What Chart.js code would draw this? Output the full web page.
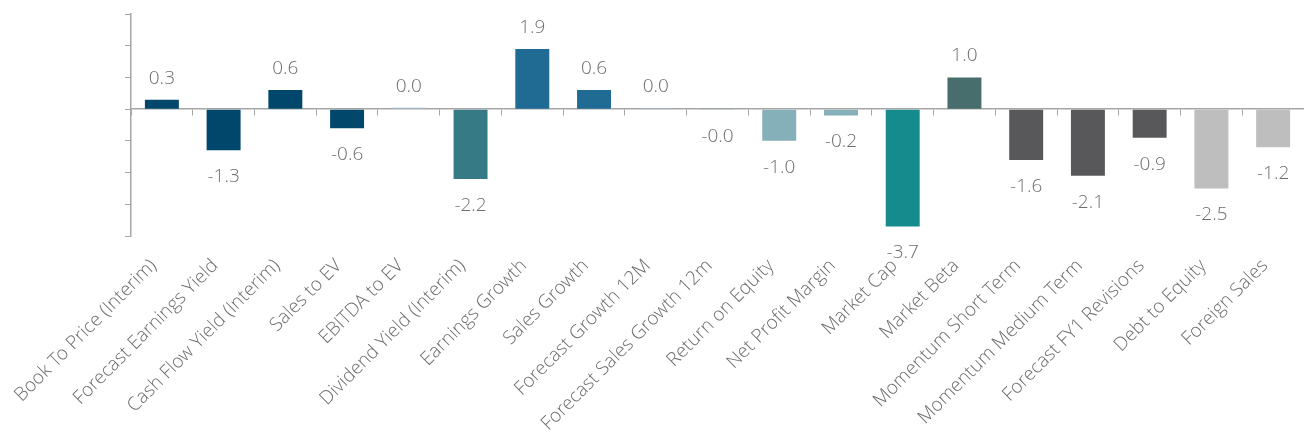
<!DOCTYPE html>
<html>
<head>
<meta charset="utf-8">
<script src="https://cdn.jsdelivr.net/npm/chart.js@4.4.1/dist/chart.umd.min.js"></script>
<style>
    html, body { margin: 0; padding: 0; background: #fff; }
    #wrap { width: 1304px; height: 439px; position: relative; }
</style>
</head>
<body>
<div id="wrap"><canvas id="myChart"></canvas></div>
<script>
const labels = ['Book To Price (Interim)', 'Forecast Earnings Yield', 'Cash Flow Yield (Interim)', 'Sales to EV', 'EBITDA to EV', 'Dividend Yield (Interim)', 'Earnings Growth', 'Sales Growth', 'Forecast Growth 12M', 'Forecast Sales Growth 12m', 'Return on Equity', 'Net Profit Margin', 'Market Cap', 'Market Beta', 'Momentum Short Term', 'Momentum Medium Term', 'Forecast FY1 Revisions', 'Debt to Equity', 'Foreign Sales'];
const values = [0.3, -1.3, 0.6, -0.6, 0.04, -2.2, 1.9, 0.6, 0.03, -0.03, -1.0, -0.2, -3.7, 1.0, -1.6, -2.1, -0.9, -2.5, -1.2];
const barColors = ['#00476b', '#00476b', '#00476b', '#00476b', '#9bb9c9', '#367a86', '#1f6b93', '#1f6b93', '#94b8c8', '#86afba', '#86b0b9', '#86b0b9', '#158b8d', '#476e6c', '#58585a', '#58585a', '#58585a', '#bebebe', '#bebebe'];
const yTicks = [-4, -3, -2, -1, 0, 1, 2, 3];

const axisGrey = '#a6a6a6';
const textGrey = '#6e6e6e';
const fontFamily = "'Open Sans Light', 'Open Sans', 'Noto Sans', sans-serif";

// value labels above / below each bar
const valueLabels = {
    id: 'valueLabels',
    afterDatasetsDraw(chart) {
        const ctx = chart.ctx;
        const meta = chart.getDatasetMeta(0);
        ctx.save();
        ctx.font = `300 19px ${fontFamily}`;
        ctx.fillStyle = textGrey;
        ctx.textAlign = 'center';
        ctx.textBaseline = 'alphabetic';
        meta.data.forEach((bar, i) => {
            const v = values[i];
            const txt = v.toFixed(1);
            if (v >= 0) {
                ctx.fillText(txt, bar.x, Math.min(bar.y, bar.base) - 16);
            } else {
                ctx.fillText(txt, bar.x, Math.max(bar.y, bar.base) + 32);
            }
        });
        ctx.restore();
    }
};

const ctx = document.getElementById('myChart').getContext('2d');
const myChart = new Chart(ctx, {
    type: 'bar',
    data: {
        labels: labels,
        datasets: [{
            data: values,
            backgroundColor: barColors,
            borderWidth: 0,
            barPercentage: 0.55,
            categoryPercentage: 1
        }]
    },
    options: {
        responsive: true,
        maintainAspectRatio: false,
        animation: false,
        layout: { padding: { top: 14, right: 0, left: 0, bottom: 0 } },
        plugins: {
            legend: { display: false },
            tooltip: { enabled: false }
        },
        scales: {
            x: {
                position: 'bottom',
                afterFit: (s) => { s.height = 203; s.paddingLeft = 0; s.paddingRight = 0; },
                grid: { display: false, drawTicks: false },
                border: { display: false },
                ticks: {
                    color: textGrey,
                    font: { family: fontFamily, size: 19, weight: 300 },
                    minRotation: 45,
                    maxRotation: 45,
                    autoSkip: false,
                    padding: 19,
                    labelOffset: -8
                }
            },
            x2: {
                type: 'category',
                labels: labels,
                offset: true,
                position: { y: 0 },
                afterFit: (s) => { s.height = 0; },
                grid: {
                    offset: true,
                    drawOnChartArea: false,
                    drawTicks: true,
                    tickLength: 6,
                    color: axisGrey
                },
                border: { display: true, color: axisGrey, width: 1.5 },
                ticks: { display: false }
            },
            y: {
                min: -4,
                max: 3,
                afterFit: (s) => { s.width = 131; },
                afterBuildTicks: (s) => { s.ticks = yTicks.map(v => ({ value: v })); },
                grid: {
                    drawOnChartArea: false,
                    drawTicks: true,
                    tickLength: 6,
                    color: axisGrey
                },
                border: { display: true, color: axisGrey, width: 1.5 },
                ticks: { display: false }
            }
        }
    },
    plugins: [valueLabels]
});
</script>
</body>
</html>
